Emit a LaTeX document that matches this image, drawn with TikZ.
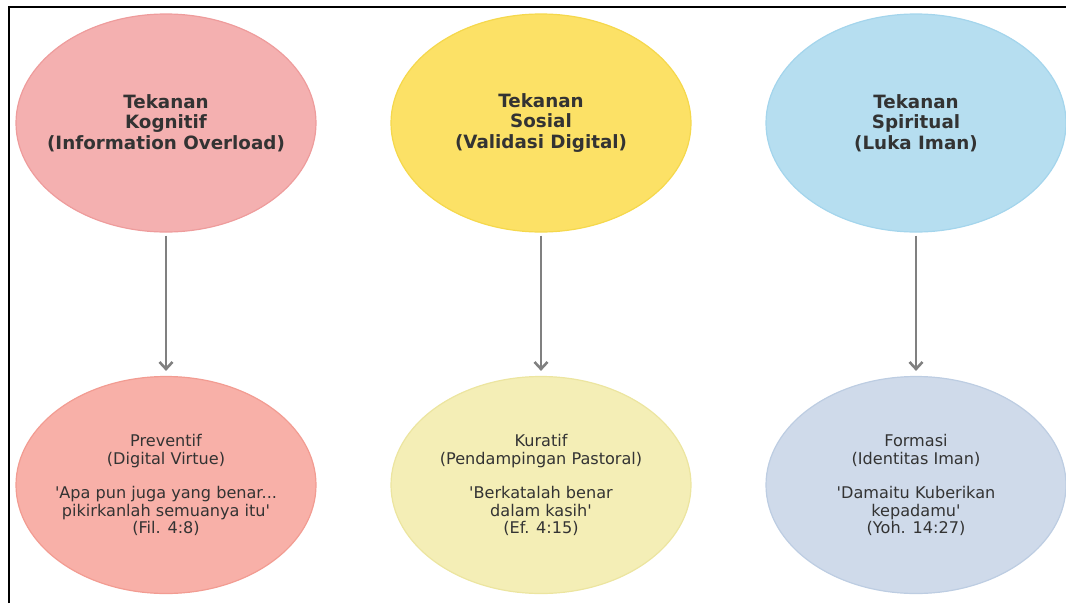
\documentclass[tikz,border=0pt]{standalone}
\usepackage{fontspec}
\setmainfont{DejaVu Sans}[Ligatures=TeXOff]
\usetikzlibrary{shapes.geometric,arrows.meta}

\definecolor{txt}{HTML}{333333}
\definecolor{arrowgray}{HTML}{808080}
\definecolor{kogfill}{HTML}{F4B0B0}
\definecolor{kogline}{HTML}{EE9C9C}
\definecolor{sosfill}{HTML}{FCE166}
\definecolor{sosline}{HTML}{F5D84C}
\definecolor{spifill}{HTML}{B6DEF0}
\definecolor{spiline}{HTML}{A4D5EC}
\definecolor{prefill}{HTML}{F8B0A8}
\definecolor{preline}{HTML}{F29C92}
\definecolor{kurfill}{HTML}{F4EEB6}
\definecolor{kurline}{HTML}{ECE5A0}
\definecolor{forfill}{HTML}{CFDAEA}
\definecolor{forline}{HTML}{BDCDE2}

\begin{document}
\begin{tikzpicture}[x=1pt,y=-1pt,
    pressure/.style={ellipse,draw,line width=1.2pt,minimum width=300pt,minimum height=218pt,
        inner xsep=-60pt,inner ysep=0pt,align=center,text=txt,font=\fontsize{18.3}{20.5}\selectfont\bfseries},
    answer/.style={ellipse,draw,line width=1.2pt,minimum width=300pt,minimum height=217pt,
        inner xsep=-60pt,inner ysep=0pt,align=center,text=txt,font=\fontsize{16.1}{17.3}\selectfont},
    flow/.style={line width=2.8pt,arrowgray,-{Straight Barb[length=7pt,width=13pt,line width=2.6pt]},
        shorten <=3pt,shorten >=5pt}]
        \useasboundingbox (0,0) rectangle (1066,603);

        % Rahmen
        \draw[line width=2pt] (8.5,603) -- (8.5,6.5) -- (1066,6.5);

        % Tekanan
        \node[pressure,fill=kogfill,draw=kogline] (kognitif) at (166,123) {Tekanan\\Kognitif\\(Information Overload)};
        \node[pressure,fill=sosfill,draw=sosline] (sosial) at (541,123) {Tekanan\\Sosial\\(Validasi Digital)};
        \node[pressure,fill=spifill,draw=spiline] (spiritual) at (916,123) {Tekanan\\Spiritual\\(Luka Iman)};

        % Jawaban
        \node[answer,fill=prefill,draw=preline] (preventif) at (166,485)
            {Preventif\\(Digital Virtue)\\[17.3pt]'Apa pun juga yang benar...\\pikirkanlah semuanya itu'\\(Fil. 4:8)};
        \node[answer,fill=kurfill,draw=kurline] (kuratif) at (541,485)
            {Kuratif\\(Pendampingan Pastoral)\\[17.3pt]'Berkatalah benar\\dalam kasih'\\(Ef. 4:15)};
        \node[answer,fill=forfill,draw=forline] (formasi) at (916,485)
            {Formasi\\(Identitas Iman)\\[17.3pt]'Damaitu Kuberikan\\kepadamu'\\(Yoh. 14:27)};

        % Pfeile
        \draw[flow] (kognitif) -- (preventif);
        \draw[flow] (sosial) -- (kuratif);
        \draw[flow] (spiritual) -- (formasi);
    \end{tikzpicture}
\end{document}
